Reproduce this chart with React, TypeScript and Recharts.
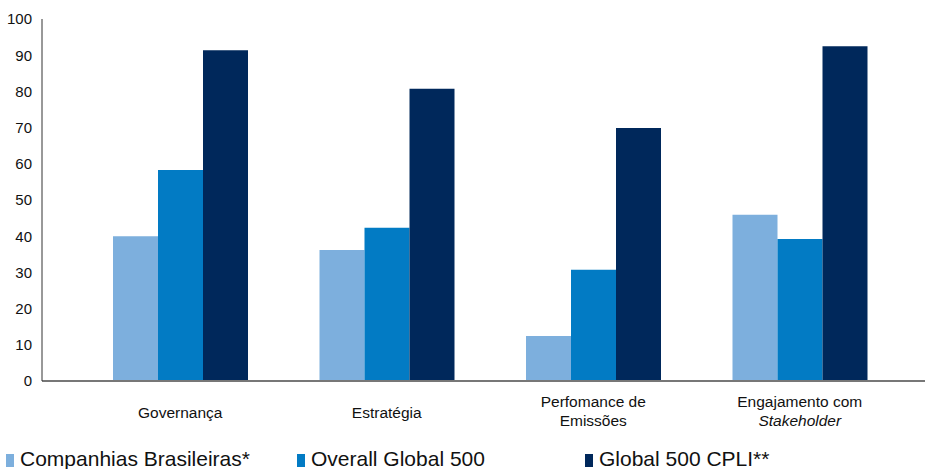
import React from "react";
import { BarChart, Bar, XAxis, YAxis, Legend } from "recharts";

// categories and series values
const categories = ["Governança", "Estratégia", "Perfomance de|Emissões", "Engajamento com|Stakeholder"];
const brasileiras = [40, 36.2, 12.4, 45.9];
const overall = [58.3, 42.3, 30.7, 39.2];
const cpli = [91.4, 80.7, 69.9, 92.5];
const yTicks = [0, 10, 20, 30, 40, 50, 60, 70, 80, 90, 100];

const seriesNames = ["Companhias Brasileiras*", "Overall Global 500", "Global 500 CPLI**"];
const colors = ["#7DAFDD", "#027BC4", "#00285B"];
const italicWords = ["Stakeholder"];

const data = categories.map((c, i) => ({
  name: c,
  brasileiras: brasileiras[i],
  overall: overall[i],
  cpli: cpli[i],
}));

const FONT = "'Liberation Sans', Arial, Helvetica, sans-serif";

// multi-line category label, second line italic for "Stakeholder"
const CategoryTick = ({ x, y, payload }: any) => {
  const lines: string[] = String(payload.value).split("|");
  const startY = lines.length === 1 ? y + 35 : y + 24;
  return (
    <text x={x} y={startY} textAnchor="middle" fontSize={15.5} fill="#111" fontFamily={FONT}>
      {lines.map((l, i) => (
        <tspan key={i} x={x} dy={i === 0 ? 0 : 19} fontStyle={italicWords.includes(l) ? "italic" : "normal"}>
          {l}
        </tspan>
      ))}
    </text>
  );
};

const itemLefts = [6, 297, 585];

const CustomLegend = () => (
  <div style={{ position: "relative", width: 928, height: 28, fontFamily: FONT }}>
    {seriesNames.map((n, i) => (
      <div key={n}>
        <div
          style={{
            position: "absolute",
            left: itemLefts[i],
            top: 13,
            width: 8,
            height: 13,
            background: colors[i],
          }}
        />
        <div
          style={{
            position: "absolute",
            left: itemLefts[i] + 14,
            top: 7,
            fontSize: 21,
            lineHeight: "21px",
            color: "#111",
            whiteSpace: "nowrap",
          }}
        >
          {n}
        </div>
      </div>
    ))}
  </div>
);

export default function App() {
  return (
    <div style={{ position: "absolute", left: 0, top: 0, width: 928, height: 469, background: "#fff", overflow: "hidden" }}>
      <BarChart
        width={928}
        height={469}
        data={data}
        margin={{ top: 19, right: 3, bottom: 0, left: 0 }}
        barGap={0}
      >
        <XAxis
          dataKey="name"
          height={60}
          padding={{ left: 35, right: 22 }}
          axisLine={{ stroke: "#777", strokeWidth: 2 }}
          tickLine={false}
          tickSize={0}
          tick={<CategoryTick />}
          interval={0}
        />
        <YAxis
          width={42}
          domain={[0, 100]}
          ticks={yTicks}
          axisLine={{ stroke: "#333", strokeWidth: 1 }}
          tickLine={false}
          tickSize={0}
          tickMargin={10}
          tick={{ fontSize: 15, fill: "#111", fontFamily: FONT }}
        />
        <Legend
          verticalAlign="bottom"
          height={28}
          content={<CustomLegend />}
          wrapperStyle={{ left: 0, top: 441, width: 928, height: 28 }}
        />
        <Bar dataKey="brasileiras" name={seriesNames[0]} fill={colors[0]} barSize={45} isAnimationActive={false} />
        <Bar dataKey="overall" name={seriesNames[1]} fill={colors[1]} barSize={45} isAnimationActive={false} />
        <Bar dataKey="cpli" name={seriesNames[2]} fill={colors[2]} barSize={45} isAnimationActive={false} />
      </BarChart>
    </div>
  );
}
